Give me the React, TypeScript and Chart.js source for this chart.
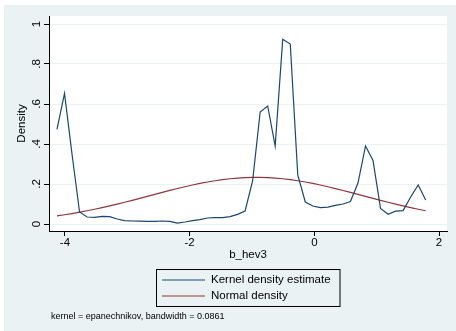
import React, { useEffect, useRef } from "react";
import { Chart, registerables } from "chart.js";

Chart.register(...registerables);

const xGrid = [
  -4.128, -4.007, -3.887, -3.766, -3.645, -3.525, -3.404, -3.283, -3.162, -3.042,
  -2.921, -2.8, -2.68, -2.559, -2.438, -2.318, -2.197, -2.076, -1.955, -1.835,
  -1.714, -1.593, -1.473, -1.352, -1.231, -1.111, -0.99, -0.869, -0.748, -0.628,
  -0.507, -0.386, -0.266, -0.145, -0.024, 0.096, 0.217, 0.338, 0.459, 0.579,
  0.7, 0.821, 0.941, 1.062, 1.183, 1.303, 1.424, 1.545, 1.666, 1.786,
];

const kernelDensity = [
  0.473, 0.653, 0.35, 0.06, 0.035, 0.033, 0.038, 0.037, 0.025, 0.017,
  0.015, 0.014, 0.013, 0.013, 0.015, 0.013, 0.004, 0.01, 0.017, 0.022,
  0.03, 0.032, 0.032, 0.037, 0.048, 0.065, 0.215, 0.56, 0.59, 0.39,
  0.924, 0.9, 0.245, 0.11, 0.09, 0.082, 0.084, 0.093, 0.1, 0.112,
  0.205, 0.39, 0.318, 0.078, 0.049, 0.064, 0.067, 0.135, 0.195, 0.12,
];

const normalDensity = [
  0.0406, 0.0462, 0.0523, 0.059, 0.0661, 0.0738, 0.0819, 0.0905, 0.0995, 0.1088,
  0.1185, 0.1283, 0.1382, 0.1482, 0.1581, 0.1678, 0.1773, 0.1864, 0.1949, 0.2028,
  0.21, 0.2164, 0.2218, 0.2263, 0.2297, 0.232, 0.2332, 0.2332, 0.232, 0.2297,
  0.2263, 0.2218, 0.2164, 0.21, 0.2027, 0.1949, 0.1863, 0.1772, 0.1677, 0.1581,
  0.1481, 0.1381, 0.1282, 0.1184, 0.1087, 0.0995, 0.0905, 0.0818, 0.0737, 0.0661,
];

const xTicks = [-4, -2, 0, 2];
const yTicks = [0, 0.2, 0.4, 0.6, 0.8, 1];
const yTickLabels = ["0", ".2", ".4", ".6", ".8", "1"];
const seriesNames = ["Kernel density estimate", "Normal density"];
const xTitle = "b_hev3";
const yTitle = "Density";
const note = "kernel = epanechnikov, bandwidth = 0.0861";

const NAVY = "#1a476f";
const MAROON = "#90353b";
const BG = "#eaf2f3";
const FONT = "'Liberation Sans', Arial, sans-serif";

const stataPlugin = {
  id: "stataDecor",
  beforeDraw(chart: any) {
    const { ctx, chartArea } = chart;
    ctx.save();
    ctx.fillStyle = "#ffffff";
    ctx.fillRect(0, 0, chart.width, chart.height);
    ctx.fillStyle = BG;
    ctx.fillRect(4, 5, chart.width - 4, chart.height - 5);
    ctx.fillStyle = "#ffffff";
    ctx.fillRect(chartArea.left, chartArea.top, chartArea.right - chartArea.left, chartArea.bottom - chartArea.top);
    ctx.restore();
  },
  afterDraw(chart: any) {
    const { ctx, chartArea } = chart;
    const y = chart.scales.y;
    ctx.save();
    ctx.fillStyle = "#000";
    ctx.font = `11.5px ${FONT}`;
    // y tick labels rotated
    yTicks.forEach((v, i) => {
      const py = y.getPixelForValue(v);
      ctx.save();
      ctx.translate(37, py);
      ctx.rotate(-Math.PI / 2);
      ctx.textAlign = "center";
      ctx.textBaseline = "middle";
      ctx.fillText(yTickLabels[i], 0, 0);
      ctx.restore();
    });
    // y title
    ctx.save();
    ctx.translate(22, (chartArea.top + chartArea.bottom) / 2);
    ctx.rotate(-Math.PI / 2);
    ctx.textAlign = "center";
    ctx.textBaseline = "middle";
    ctx.fillText(yTitle, 0, 0);
    ctx.restore();
    // x title
    ctx.textAlign = "center";
    ctx.textBaseline = "middle";
    ctx.fillText(xTitle, (chartArea.left + chartArea.right) / 2, 255);
    // legend
    ctx.strokeStyle = "#000";
    ctx.lineWidth = 1;
    ctx.strokeRect(156.5, 269.5, 183.5, 37);
    const colors = [NAVY, MAROON];
    const rows = [280, 296];
    seriesNames.forEach((name, i) => {
      ctx.strokeStyle = colors[i];
      ctx.lineWidth = 1.2;
      ctx.beginPath();
      ctx.moveTo(162, rows[i]);
      ctx.lineTo(205, rows[i]);
      ctx.stroke();
      ctx.fillStyle = "#000";
      ctx.textAlign = "left";
      ctx.textBaseline = "middle";
      ctx.fillText(name, 211, rows[i]);
    });
    // note
    ctx.font = `9px ${FONT}`;
    ctx.textAlign = "left";
    ctx.textBaseline = "middle";
    ctx.fillText(note, 51, 317);
    ctx.restore();
  },
};

export default function App() {
  const ref = useRef<HTMLCanvasElement | null>(null);
  useEffect(() => {
    document.body.style.margin = "0";
    const canvas = ref.current!;
    const chart = new Chart(canvas, {
      type: "line",
      data: {
        datasets: [
          {
            label: seriesNames[0],
            data: xGrid.map((x, i) => ({ x, y: kernelDensity[i] })),
            borderColor: NAVY,
            borderWidth: 1.2,
            pointRadius: 0,
            tension: 0,
            fill: false,
          },
          {
            label: seriesNames[1],
            data: xGrid.map((x, i) => ({ x, y: normalDensity[i] })),
            borderColor: MAROON,
            borderWidth: 1.2,
            pointRadius: 0,
            tension: 0,
            fill: false,
          },
        ],
      },
      options: {
        responsive: false,
        animation: false,
        devicePixelRatio: 1,
        layout: { padding: { left: 4, right: 9, top: 16, bottom: 0 } },
        plugins: { legend: { display: false }, tooltip: { enabled: false } },
        scales: {
          x: {
            type: "linear",
            min: -4.256,
            max: 2.128,
            afterBuildTicks: (s: any) => {
              s.ticks = xTicks.map((v) => ({ value: v }));
            },
            afterFit: (s: any) => {
              s.height = 100;
            },
            grid: { display: true, drawOnChartArea: false, tickColor: "#000", tickLength: 5 },
            border: { display: true, color: "#000", width: 1 },
            ticks: {
              color: "#000",
              font: { family: FONT, size: 11.5 },
              padding: 0,
              maxRotation: 0,
              autoSkip: false,
              callback: (v: any) => String(v),
            },
          },
          y: {
            type: "linear",
            min: -0.035,
            max: 1.04,
            afterBuildTicks: (s: any) => {
              s.ticks = yTicks.map((v) => ({ value: v }));
            },
            afterFit: (s: any) => {
              s.width = 45;
            },
            grid: { color: BG, lineWidth: 1, tickColor: "#000", tickLength: 5 },
            border: { display: true, color: "#000", width: 1 },
            ticks: { display: false },
          },
        },
      },
      plugins: [stataPlugin],
    });
    return () => chart.destroy();
  }, []);
  return (
    <canvas
      ref={ref}
      width={456}
      height={331}
      style={{ position: "absolute", left: 0, top: 0, width: 456, height: 331 }}
    />
  );
}
